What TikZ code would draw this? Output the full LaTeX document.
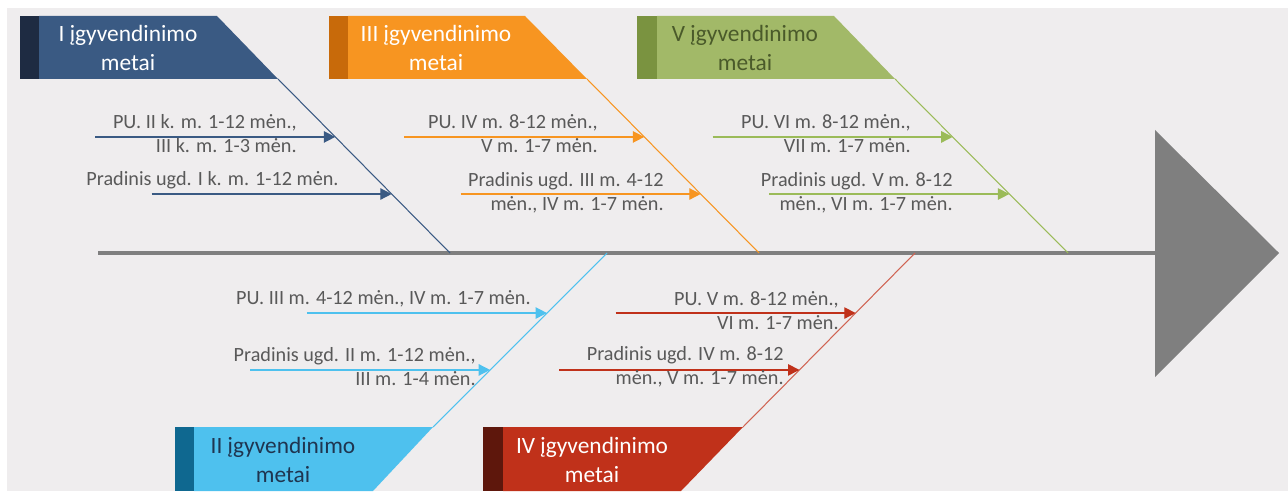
\documentclass[tikz,border=0pt]{standalone}
\usepackage{fontspec}
\setmainfont{Carlito}
\usetikzlibrary{arrows.meta, positioning, calc}

\definecolor{bgGray}{HTML}{EFEDEE}
\definecolor{spineGray}{HTML}{7F7F7F}
\definecolor{txtGray}{HTML}{595959}
\definecolor{yOneMain}{HTML}{3A5A83}
\definecolor{yOneDark}{HTML}{1E2B42}
\definecolor{yTwoMain}{HTML}{4EC1EE}
\definecolor{yTwoDark}{HTML}{0F6890}
\definecolor{yTwoText}{HTML}{1F3550}
\definecolor{yThreeMain}{HTML}{F79521}
\definecolor{yThreeDark}{HTML}{C86A0A}
\definecolor{yFourMain}{HTML}{C0311A}
\definecolor{yFourDark}{HTML}{5E170C}
\definecolor{yFiveMain}{HTML}{A2B968}
\definecolor{yFiveDark}{HTML}{7A9340}
\definecolor{yFiveLine}{HTML}{9BBB59}
\definecolor{yFiveText}{HTML}{4A5A2A}

\begin{document}
\begin{tikzpicture}[
        x=0.02cm, y=-0.02cm,
        year/.style={align=center, inner sep=0pt, font=\fontsize{13.3}{16.4}\selectfont},
        task/.style={align=right, anchor=east, inner sep=0pt, text=txtGray, font=\fontsize{11.5}{13.6}\selectfont},
        bone/.style={line width=0.6pt},
        sub/.style={line width=0.8pt, -{Triangle[length=6.5pt, width=6.5pt]}}
    ]
        \useasboundingbox (0,0) rectangle (1288,493);
        \fill[bgGray] (7,8) rectangle (1288,491);

        % spine and head
        \coordinate (tail) at (98,253);
        \coordinate (head) at (1155,253);
        \draw[spineGray, line width=2.3pt] (tail) -- (head);
        \fill[spineGray] (1155,130) -- (1279,253) -- (1155,377) -- cycle;

        % year boxes, top row
        \fill[yOneMain] (39,16) -- (217,16) -- (278,79) -- (39,79) -- cycle;
        \fill[yOneDark] (20,16) rectangle (39,79);
        \node[year, text=white] (year1) at (128,48) {I įgyvendinimo\\metai};

        \fill[yThreeMain] (348,16) -- (525,16) -- (587,79) -- (348,79) -- cycle;
        \fill[yThreeDark] (329,16) rectangle (348,79);
        \node[year, text=white] (year3) at (436,48) {III įgyvendinimo\\metai};

        \fill[yFiveMain] (657,16) -- (834,16) -- (895,79) -- (657,79) -- cycle;
        \fill[yFiveDark] (637,16) rectangle (657,79);
        \node[year, text=yFiveText] (year5) at (745,48) {V įgyvendinimo\\metai};

        % year boxes, bottom row
        \fill[yTwoMain] (194,427) -- (433,427) -- (373,491) -- (194,491) -- cycle;
        \fill[yTwoDark] (175,427) rectangle (194,491);
        \node[year, text=yTwoText] (year2) at (283,460) {II įgyvendinimo\\metai};

        \fill[yFourMain] (503,427) -- (743,427) -- (681,491) -- (503,491) -- cycle;
        \fill[yFourDark] (483,427) rectangle (503,491);
        \node[year, text=white] (year4) at (592,460) {IV įgyvendinimo\\metai};

        % bones
        \coordinate (c1) at (278,79);  \coordinate (s1) at (450,253);
        \coordinate (c3) at (587,79);  \coordinate (s3) at (759,253);
        \coordinate (c5) at (895,79);  \coordinate (s5) at (1068,253);
        \coordinate (c2) at (433,427); \coordinate (s2) at (607,253);
        \coordinate (c4) at (743,427); \coordinate (s4) at (915,253);
        \draw[bone, yOneMain] (c1) -- (s1);
        \draw[bone, yThreeMain] (c3) -- (s3);
        \draw[bone, yFiveLine] (c5) -- (s5);
        \draw[bone, yTwoMain] (c2) -- (s2);
        \draw[bone, yFourMain!75!white] (c4) -- (s4);

        % tips on the bones
        \coordinate (t1a) at ($(c1)!0.333!(s1)$); \coordinate (t1b) at ($(c1)!0.661!(s1)$);
        \coordinate (t3a) at ($(c3)!0.333!(s3)$); \coordinate (t3b) at ($(c3)!0.661!(s3)$);
        \coordinate (t5a) at ($(c5)!0.333!(s5)$); \coordinate (t5b) at ($(c5)!0.661!(s5)$);
        \coordinate (t2a) at ($(c2)!0.655!(s2)$); \coordinate (t2b) at ($(c2)!0.328!(s2)$);
        \coordinate (t4a) at ($(c4)!0.655!(s4)$); \coordinate (t4b) at ($(c4)!0.328!(s4)$);

        % sub arrows
        \draw[sub, yOneMain] ($(t1a)+(-240,0)$) -- (t1a);
        \draw[sub, yOneMain] ($(t1b)+(-240,0)$) -- (t1b);
        \draw[sub, yThreeMain] ($(t3a)+(-240,0)$) -- (t3a);
        \draw[sub, yThreeMain] ($(t3b)+(-240,0)$) -- (t3b);
        \draw[sub, yFiveLine] ($(t5a)+(-240,0)$) -- (t5a);
        \draw[sub, yFiveLine] ($(t5b)+(-240,0)$) -- (t5b);
        \draw[sub, yTwoMain] ($(t2a)+(-240,0)$) -- (t2a);
        \draw[sub, yTwoMain] ($(t2b)+(-240,0)$) -- (t2b);
        \draw[sub, yFourMain] ($(t4a)+(-240,0)$) -- (t4a);
        \draw[sub, yFourMain] ($(t4b)+(-240,0)$) -- (t4b);

        % labels
        \node[task] (pu1) at (297,134) {PU. II k. m. 1-12 mėn.,\\III k. m. 1-3 mėn.};
        \node[task] (pr1) at (339,180) {Pradinis ugd. I k. m. 1-12 mėn.};
        \node[task] (pu3) at (598,134) {PU. IV m. 8-12 mėn.,\\V m. 1-7 mėn.};
        \node[task] (pr3) at (664,193) {Pradinis ugd. III m. 4-12\\mėn., IV m. 1-7 mėn.};
        \node[task] (pu5) at (911,134) {PU. VI m. 8-12 mėn.,\\VII m. 1-7 mėn.};
        \node[task] (pr5) at (953,193) {Pradinis ugd. V m. 8-12\\mėn., VI m. 1-7 mėn.};
        \node[task] (pu2) at (531,299) {PU. III m. 4-12 mėn., IV m. 1-7 mėn.};
        \node[task] (pr2) at (476,367) {Pradinis ugd. II m. 1-12 mėn.,\\III m. 1-4 mėn.};
        \node[task] (pu4) at (839,311) {PU. V m. 8-12 mėn.,\\VI m. 1-7 mėn.};
        \node[task] (pr4) at (784,367) {Pradinis ugd. IV m. 8-12\\mėn., V m. 1-7 mėn.};
    \end{tikzpicture}
\end{document}
